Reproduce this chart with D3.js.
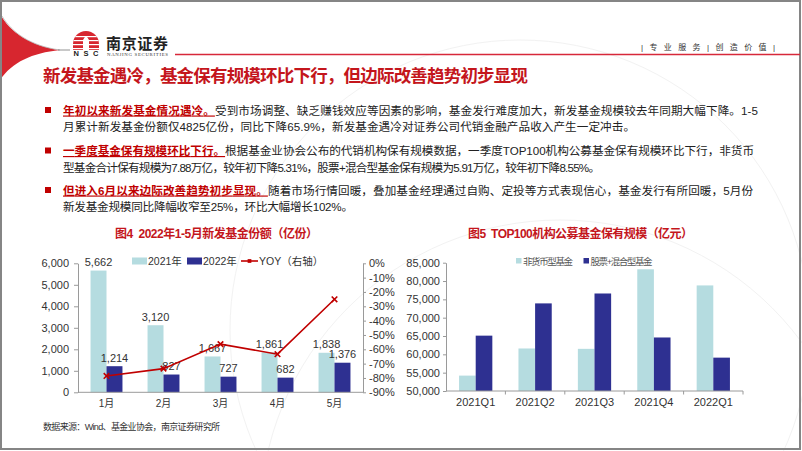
<!DOCTYPE html>
<html><head><meta charset="utf-8">
<script src="https://cdn.jsdelivr.net/npm/d3@7/dist/d3.min.js"></script>
<style>
html,body{margin:0;padding:0;background:#fff;}
svg{display:block;font-family:"Liberation Sans","Noto Sans CJK SC",sans-serif;}
</style></head>
<body>
<svg id="c" width="802" height="451"></svg>
<script>
// ---- data ----
const months = ["1月","2月","3月","4月","5月"];
const v2021 = [5662,3120,1667,1861,1838];
const v2022 = [1214,827,727,682,1376];
const yoy = [-78.6,-73.5,-56.4,-63.4,-25.1];
const leftTicks1 = [0,1000,2000,3000,4000,5000,6000];
const rightTicks1 = [0,-10,-20,-30,-40,-50,-60,-70,-80,-90];
const quarters = ["2021Q1","2021Q2","2021Q3","2021Q4","2022Q1"];
const nonMoney = [54200,61600,61500,83200,78800];
const equityMixed = [65100,73900,76600,64600,59100];
const leftTicks2 = [50000,55000,60000,65000,70000,75000,80000,85000];

const RED = "#c4161c", LIGHT = "#b5dce0", NAVY = "#2e3091", LINE = "#c00000", AX = "#9a9a9a";
const svg = d3.select("#c");

// ---- page frame & decorations ----
svg.append("rect").attr("x",0).attr("y",0).attr("width",802).attr("height",451).attr("fill","#fff");
const deco = svg.append("g").attr("fill","none").attr("stroke","#f2f2f2").attr("stroke-width",1);
deco.append("circle").attr("cx",560).attr("cy",520).attr("r",300);
deco.append("circle").attr("cx",520).attr("cy",330).attr("r",290);

svg.append("path").attr("d","M0,14 C10,32 30,46 60,50 C32,53 12,62 0,80 Z").attr("fill","#d7262f");
svg.append("path").attr("d","M2,16 C12,33 31,46 60,50").attr("fill","none").attr("stroke","#b8b8b8").attr("stroke-width",0.8);
svg.append("line").attr("x1",58).attr("x2",70).attr("y1",50).attr("y2",50).attr("stroke","#777").attr("stroke-width",0.8);
svg.append("rect").attr("x",1).attr("y",1).attr("width",799).attr("height",448).attr("fill","none").attr("stroke","#858585").attr("stroke-width",2);

// logo
const logo = svg.append("g");
logo.append("clipPath").attr("id","dome").append("path").attr("d","M73,50 L73,44 A13,13 0 0 1 99,44 L99,50 Z");
const lg = logo.append("g").attr("clip-path","url(#dome)");
lg.append("rect").attr("x",73).attr("y",30).attr("width",26).attr("height",20).attr("fill","#d7262f");
[36,40,44,48].forEach(yy=>lg.append("rect").attr("x",73).attr("y",yy).attr("width",26).attr("height",1.2).attr("fill","#fff"));
lg.append("path").attr("d","M83,50 L83,40 Q86,33 89,40 L89,50 Z").attr("fill","#fff");
logo.append("text").attr("x",86).attr("y",56).attr("text-anchor","middle").attr("font-size",7.5).attr("font-weight","bold").attr("fill","#222").attr("textLength",25).text("NSC");
logo.append("text").attr("x",106).attr("y",48.5).attr("font-size",15).attr("font-weight","bold").attr("fill","#222").attr("textLength",62).text("南京证券");
logo.append("text").attr("x",107).attr("y",56).attr("font-size",4.8).attr("font-family","Liberation Serif").attr("fill","#333").attr("textLength",61).text("NANJING SECURITIES");
svg.append("line").attr("x1",175).attr("x2",800).attr("y1",54.5).attr("y2",54.5).attr("stroke","#d7283a").attr("stroke-width",1.5);
svg.append("text").attr("x",641).attr("y",50).attr("font-size",8).attr("fill","#333").attr("textLength",134).attr("lengthAdjust","spacing").text("| 专 业 服 务 | 创 造 价 值 |");

// ---- title ----
svg.append("text").attr("x",43).attr("y",82).attr("font-size",17.5).attr("font-weight","bold").attr("fill",RED)
  .attr("textLength",485).attr("lengthAdjust","spacing").text("新发基金遇冷，基金保有规模环比下行，但边际改善趋势初步显现");

// ---- bullets ----
const paras = [
  {y:[114.5,131], w:[695,572], red:"年初以来新发基金情况遇冷。",
   l1:"受到市场调整、缺乏赚钱效应等因素的影响，基金发行难度加大，新发基金规模较去年同期大幅下降。1-5",
   l2:"月累计新发基金份额仅4825亿份，同比下降65.9%，新发基金遇冷对证券公司代销金融产品收入产生一定冲击。"},
  {y:[155,171.5], w:[691,537], red:"一季度基金保有规模环比下行。",
   l1:"根据基金业协会公布的代销机构保有规模数据，一季度TOP100机构公募基金保有规模环比下行，非货币",
   l2:"型基金合计保有规模为7.88万亿，较年初下降5.31%，股票+混合型基金保有规模为5.91万亿，较年初下降8.55%。"},
  {y:[194.5,211], w:[690,290], red:"但进入6月以来边际改善趋势初步显现。",
   l1:"随着市场行情回暖，叠加基金经理通过自购、定投等方式表现信心，基金发行有所回暖，5月份",
   l2:"新发基金规模同比降幅收窄至25%，环比大幅增长102%。"}
];
paras.forEach(p=>{
  svg.append("rect").attr("x",45).attr("y",p.y[0]-7.5).attr("width",6).attr("height",6).attr("fill","#c00000");
  const t1 = svg.append("text").attr("x",63).attr("y",p.y[0]).attr("font-size",11.6).attr("fill","#222")
    .attr("textLength",p.w[0]).attr("lengthAdjust","spacing");
  t1.append("tspan").attr("fill","#c00000").attr("font-weight","bold").style("text-decoration","underline").text(p.red);
  t1.append("tspan").text(p.l1);
  svg.append("text").attr("x",63).attr("y",p.y[1]).attr("font-size",11.6).attr("fill","#222")
    .attr("textLength",p.w[1]).attr("lengthAdjust","spacing").text(p.l2);
});

// ---- chart titles ----
svg.append("text").attr("x",115).attr("y",237.5).attr("font-size",12).attr("font-weight","bold").attr("fill",RED)
  .attr("textLength",203).attr("lengthAdjust","spacing").text("图4\u00a0\u00a02022年1-5月新发基金份额（亿份）");
svg.append("text").attr("x",468).attr("y",237.5).attr("font-size",12).attr("font-weight","bold").attr("fill",RED)
  .attr("textLength",225).attr("lengthAdjust","spacing").text("图5\u00a0\u00a0TOP100机构公募基金保有规模（亿元）");

// ---- chart 1 ----
const c1 = {l:78, r:363, t:263.3, b:392.3};
const x1 = d3.scaleBand().domain(months).range([c1.l,c1.r]).paddingInner(0.44).paddingOuter(0.22);
const xs1 = d3.scaleBand().domain(["a","b"]).range([0,x1.bandwidth()]);
const yL1 = d3.scaleLinear().domain([0,6000]).range([c1.b,c1.t]);
const yR1 = d3.scaleLinear().domain([-90,0]).range([c1.b,c1.t]);
const g1 = svg.append("g");

function styleAxis(g){
  g.select(".domain").attr("stroke",AX);
  g.selectAll(".tick line").attr("stroke",AX);
  g.selectAll(".tick text").attr("fill","#333").attr("font-family","Liberation Sans");
}
g1.append("g").attr("transform",`translate(${c1.l},0)`)
  .call(d3.axisLeft(yL1).tickValues(leftTicks1).tickFormat(d3.format(",")).tickSize(4).tickPadding(5).tickSizeOuter(0))
  .attr("font-size",11).call(styleAxis);
g1.append("g").attr("transform",`translate(${c1.r},0)`)
  .call(d3.axisRight(yR1).tickValues(rightTicks1).tickFormat(d=>d+"%").tickSize(3).tickPadding(3).tickSizeOuter(0))
  .attr("font-size",11).call(styleAxis);

g1.selectAll(".b21").data(months).join("rect").attr("x",d=>x1(d)+xs1("a")).attr("width",xs1.bandwidth())
  .attr("y",(d,i)=>yL1(v2021[i])).attr("height",(d,i)=>c1.b-yL1(v2021[i])).attr("fill",LIGHT);
g1.selectAll(".b22").data(months).join("rect").attr("x",d=>x1(d)+xs1("b")).attr("width",xs1.bandwidth())
  .attr("y",(d,i)=>yL1(v2022[i])).attr("height",(d,i)=>c1.b-yL1(v2022[i])).attr("fill",NAVY);

g1.append("line").attr("x1",c1.l).attr("x2",c1.r).attr("y1",c1.b).attr("y2",c1.b).attr("stroke",AX);
g1.selectAll(".xl").data(months).join("text").attr("x",d=>x1(d)+x1.bandwidth()/2).attr("y",407)
  .attr("text-anchor","middle").attr("font-size",10).attr("fill","#333").text(d=>d);

const fmt = d3.format(",");
g1.selectAll(".l21").data(months).join("text").attr("x",d=>x1(d)+xs1("a")+xs1.bandwidth()/2)
  .attr("y",(d,i)=>yL1(v2021[i])-4.5).attr("text-anchor","middle").attr("font-size",11).attr("fill","#333").text((d,i)=>fmt(v2021[i]));
g1.selectAll(".l22").data(months).join("text").attr("x",d=>x1(d)+xs1("b")+xs1.bandwidth()/2)
  .attr("y",(d,i)=>yL1(v2022[i])-4.5).attr("text-anchor","middle").attr("font-size",11).attr("fill","#333").text((d,i)=>fmt(v2022[i]));

const lineGen = d3.line().x((d,i)=>x1(months[i])+x1.bandwidth()/2).y(d=>yR1(d));
g1.append("path").attr("d",lineGen(yoy)).attr("fill","none").attr("stroke",LINE).attr("stroke-width",1.6);
const sym = d3.symbol().type(d3.symbolX).size(22);
g1.selectAll(".mk").data(yoy).join("path").attr("d",sym)
  .attr("transform",(d,i)=>`translate(${x1(months[i])+x1.bandwidth()/2},${yR1(d)})`)
  .attr("stroke",LINE).attr("stroke-width",1.6).attr("fill","none");

// legend 1
const lg1 = g1.append("g").attr("font-size",10.5).attr("fill","#333");
lg1.append("rect").attr("x",132).attr("y",257.5).attr("width",15).attr("height",7).attr("fill",LIGHT);
lg1.append("text").attr("x",148).attr("y",265).text("2021年");
lg1.append("rect").attr("x",187).attr("y",257.5).attr("width",15).attr("height",7).attr("fill",NAVY);
lg1.append("text").attr("x",203).attr("y",265).text("2022年");
lg1.append("line").attr("x1",241).attr("x2",258).attr("y1",261).attr("y2",261).attr("stroke",LINE).attr("stroke-width",1.6);
lg1.append("path").attr("d",d3.symbol().type(d3.symbolSquare).size(14)).attr("transform","translate(249.5,261)").attr("fill",LINE);
lg1.append("text").attr("x",259).attr("y",265).text("YOY（右轴）");

// ---- chart 2 ----
const c2 = {l:446, r:743, t:262.7, b:391};
const x2 = d3.scaleBand().domain(quarters).range([c2.l,c2.r]).paddingInner(0.44).paddingOuter(0.22);
const xs2 = d3.scaleBand().domain(["a","b"]).range([0,x2.bandwidth()]);
const y2 = d3.scaleLinear().domain([50000,85000]).range([c2.b,c2.t]);
const g2 = svg.append("g");
g2.append("g").attr("transform",`translate(${c2.l},0)`)
  .call(d3.axisLeft(y2).tickValues(leftTicks2).tickFormat(d3.format(",")).tickSize(3).tickPadding(3).tickSizeOuter(0))
  .attr("font-size",11).call(styleAxis);
g2.selectAll(".n").data(quarters).join("rect").attr("x",d=>x2(d)+xs2("a")).attr("width",xs2.bandwidth())
  .attr("y",(d,i)=>y2(nonMoney[i])).attr("height",(d,i)=>c2.b-y2(nonMoney[i])).attr("fill",LIGHT);
g2.selectAll(".e").data(quarters).join("rect").attr("x",d=>x2(d)+xs2("b")).attr("width",xs2.bandwidth())
  .attr("y",(d,i)=>y2(equityMixed[i])).attr("height",(d,i)=>c2.b-y2(equityMixed[i])).attr("fill",NAVY);
g2.append("line").attr("x1",c2.l).attr("x2",c2.r).attr("y1",c2.b).attr("y2",c2.b).attr("stroke",AX);
const bounds = quarters.map(q=>x2(q)-x2.step()*x2.paddingInner()/2).slice(1).concat([c2.r]);
g2.selectAll(".bt").data(bounds).join("line").attr("x1",d=>d).attr("x2",d=>d).attr("y1",c2.b).attr("y2",c2.b+3.5).attr("stroke",AX);
g2.selectAll(".xl").data(quarters).join("text").attr("x",d=>x2(d)+x2.bandwidth()/2).attr("y",405.5)
  .attr("text-anchor","middle").attr("font-size",11).attr("fill","#333").text(d=>d);
const lg2 = g2.append("g").attr("font-size",9.5).attr("fill","#555");
lg2.append("rect").attr("x",516).attr("y",258).attr("width",5.5).attr("height",5.5).attr("fill",LIGHT);
lg2.append("text").attr("x",523).attr("y",264.5).attr("textLength",50).attr("lengthAdjust","spacing").text("非货币型基金");
lg2.append("rect").attr("x",583.5).attr("y",258).attr("width",5.5).attr("height",5.5).attr("fill",NAVY);
lg2.append("text").attr("x",590.5).attr("y",264.5).attr("textLength",62).attr("lengthAdjust","spacing").text("股票+混合型基金");

// ---- footer ----
svg.append("text").attr("x",43).attr("y",430).attr("font-size",9).attr("fill","#333")
  .attr("textLength",177).attr("lengthAdjust","spacing").text("数据来源：Wind、基金业协会，南京证券研究所");
</script>
</body></html>
